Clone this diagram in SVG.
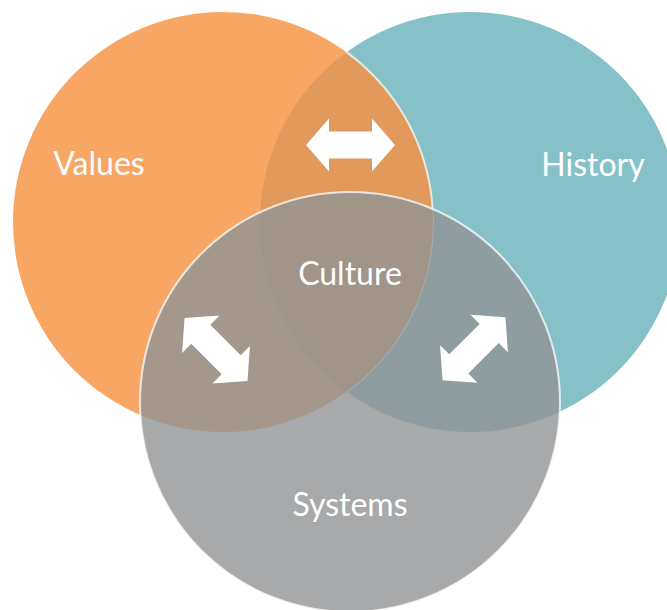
<svg xmlns="http://www.w3.org/2000/svg" width="667" height="610" viewBox="0 0 667 610">
  <style>
    .label { font-family: Lato, "Open Sans", "Liberation Sans", sans-serif; font-size: 32px; font-weight: 400; fill: #ffffff; text-anchor: middle; }
    .edge { fill: none; stroke: #ffffff; stroke-width: 2; }
    .arrow { fill: #ffffff; }
  </style>
  <defs>
    <clipPath id="clipOrange"><circle cx="223" cy="222" r="210"/></clipPath>
    <clipPath id="clipTeal"><circle cx="470" cy="222" r="210"/></clipPath>
    <clipPath id="clipGray"><circle cx="350" cy="402" r="210"/></clipPath>
    <path id="dblArrow" d="M -44.5 0 L -21.5 -26.5 L -21.5 -13.5 L 21.5 -13.5 L 21.5 -26.5 L 44.5 0 L 21.5 26.5 L 21.5 13.5 L -21.5 13.5 L -21.5 26.5 Z"/>
  </defs>
  <rect width="667" height="610" fill="#ffffff"/>

  <g id="history">
    <circle cx="470" cy="222" r="210" fill="#86C1C8"/>
    <text class="label" x="593" y="176">History</text>
  </g>

  <g id="values">
    <circle cx="223" cy="222" r="210" fill="#F7A664"/>
    <circle cx="470" cy="222" r="210" fill="#E19A5B" clip-path="url(#clipOrange)"/>
    <circle class="edge" cx="223" cy="222" r="210" stroke-opacity="0.7" clip-path="url(#clipTeal)"/>
    <text class="label" x="99" y="175">Values</text>
  </g>

  <g id="systems">
    <circle cx="350" cy="402" r="210" fill="#A8A9AB"/>
    <circle cx="350" cy="402" r="210" fill="#A4978B" clip-path="url(#clipOrange)"/>
    <circle cx="350" cy="402" r="210" fill="#8F9DA0" clip-path="url(#clipTeal)"/>
    <g clip-path="url(#clipGray)">
      <circle class="edge" cx="223" cy="222" r="210" stroke-opacity="0.18" clip-path="url(#clipTeal)"/>
    </g>
    <text class="label" x="350" y="516">Systems</text>
  </g>

  <g id="culture">
    <g clip-path="url(#clipOrange)">
      <circle cx="350" cy="402" r="210" fill="#A1958A" clip-path="url(#clipTeal)"/>
    </g>
    <circle class="edge" cx="350" cy="402" r="210" stroke-opacity="0.75"/>
    <text class="label" x="350" y="285">Culture</text>
  </g>

  <g id="connectors">
    <use href="#dblArrow" class="arrow" transform="translate(350.5,145)"/>
    <use href="#dblArrow" class="arrow" transform="translate(216,349.5) rotate(45)"/>
    <use href="#dblArrow" class="arrow" transform="translate(474,348.7) rotate(-45)"/>
  </g>
</svg>
